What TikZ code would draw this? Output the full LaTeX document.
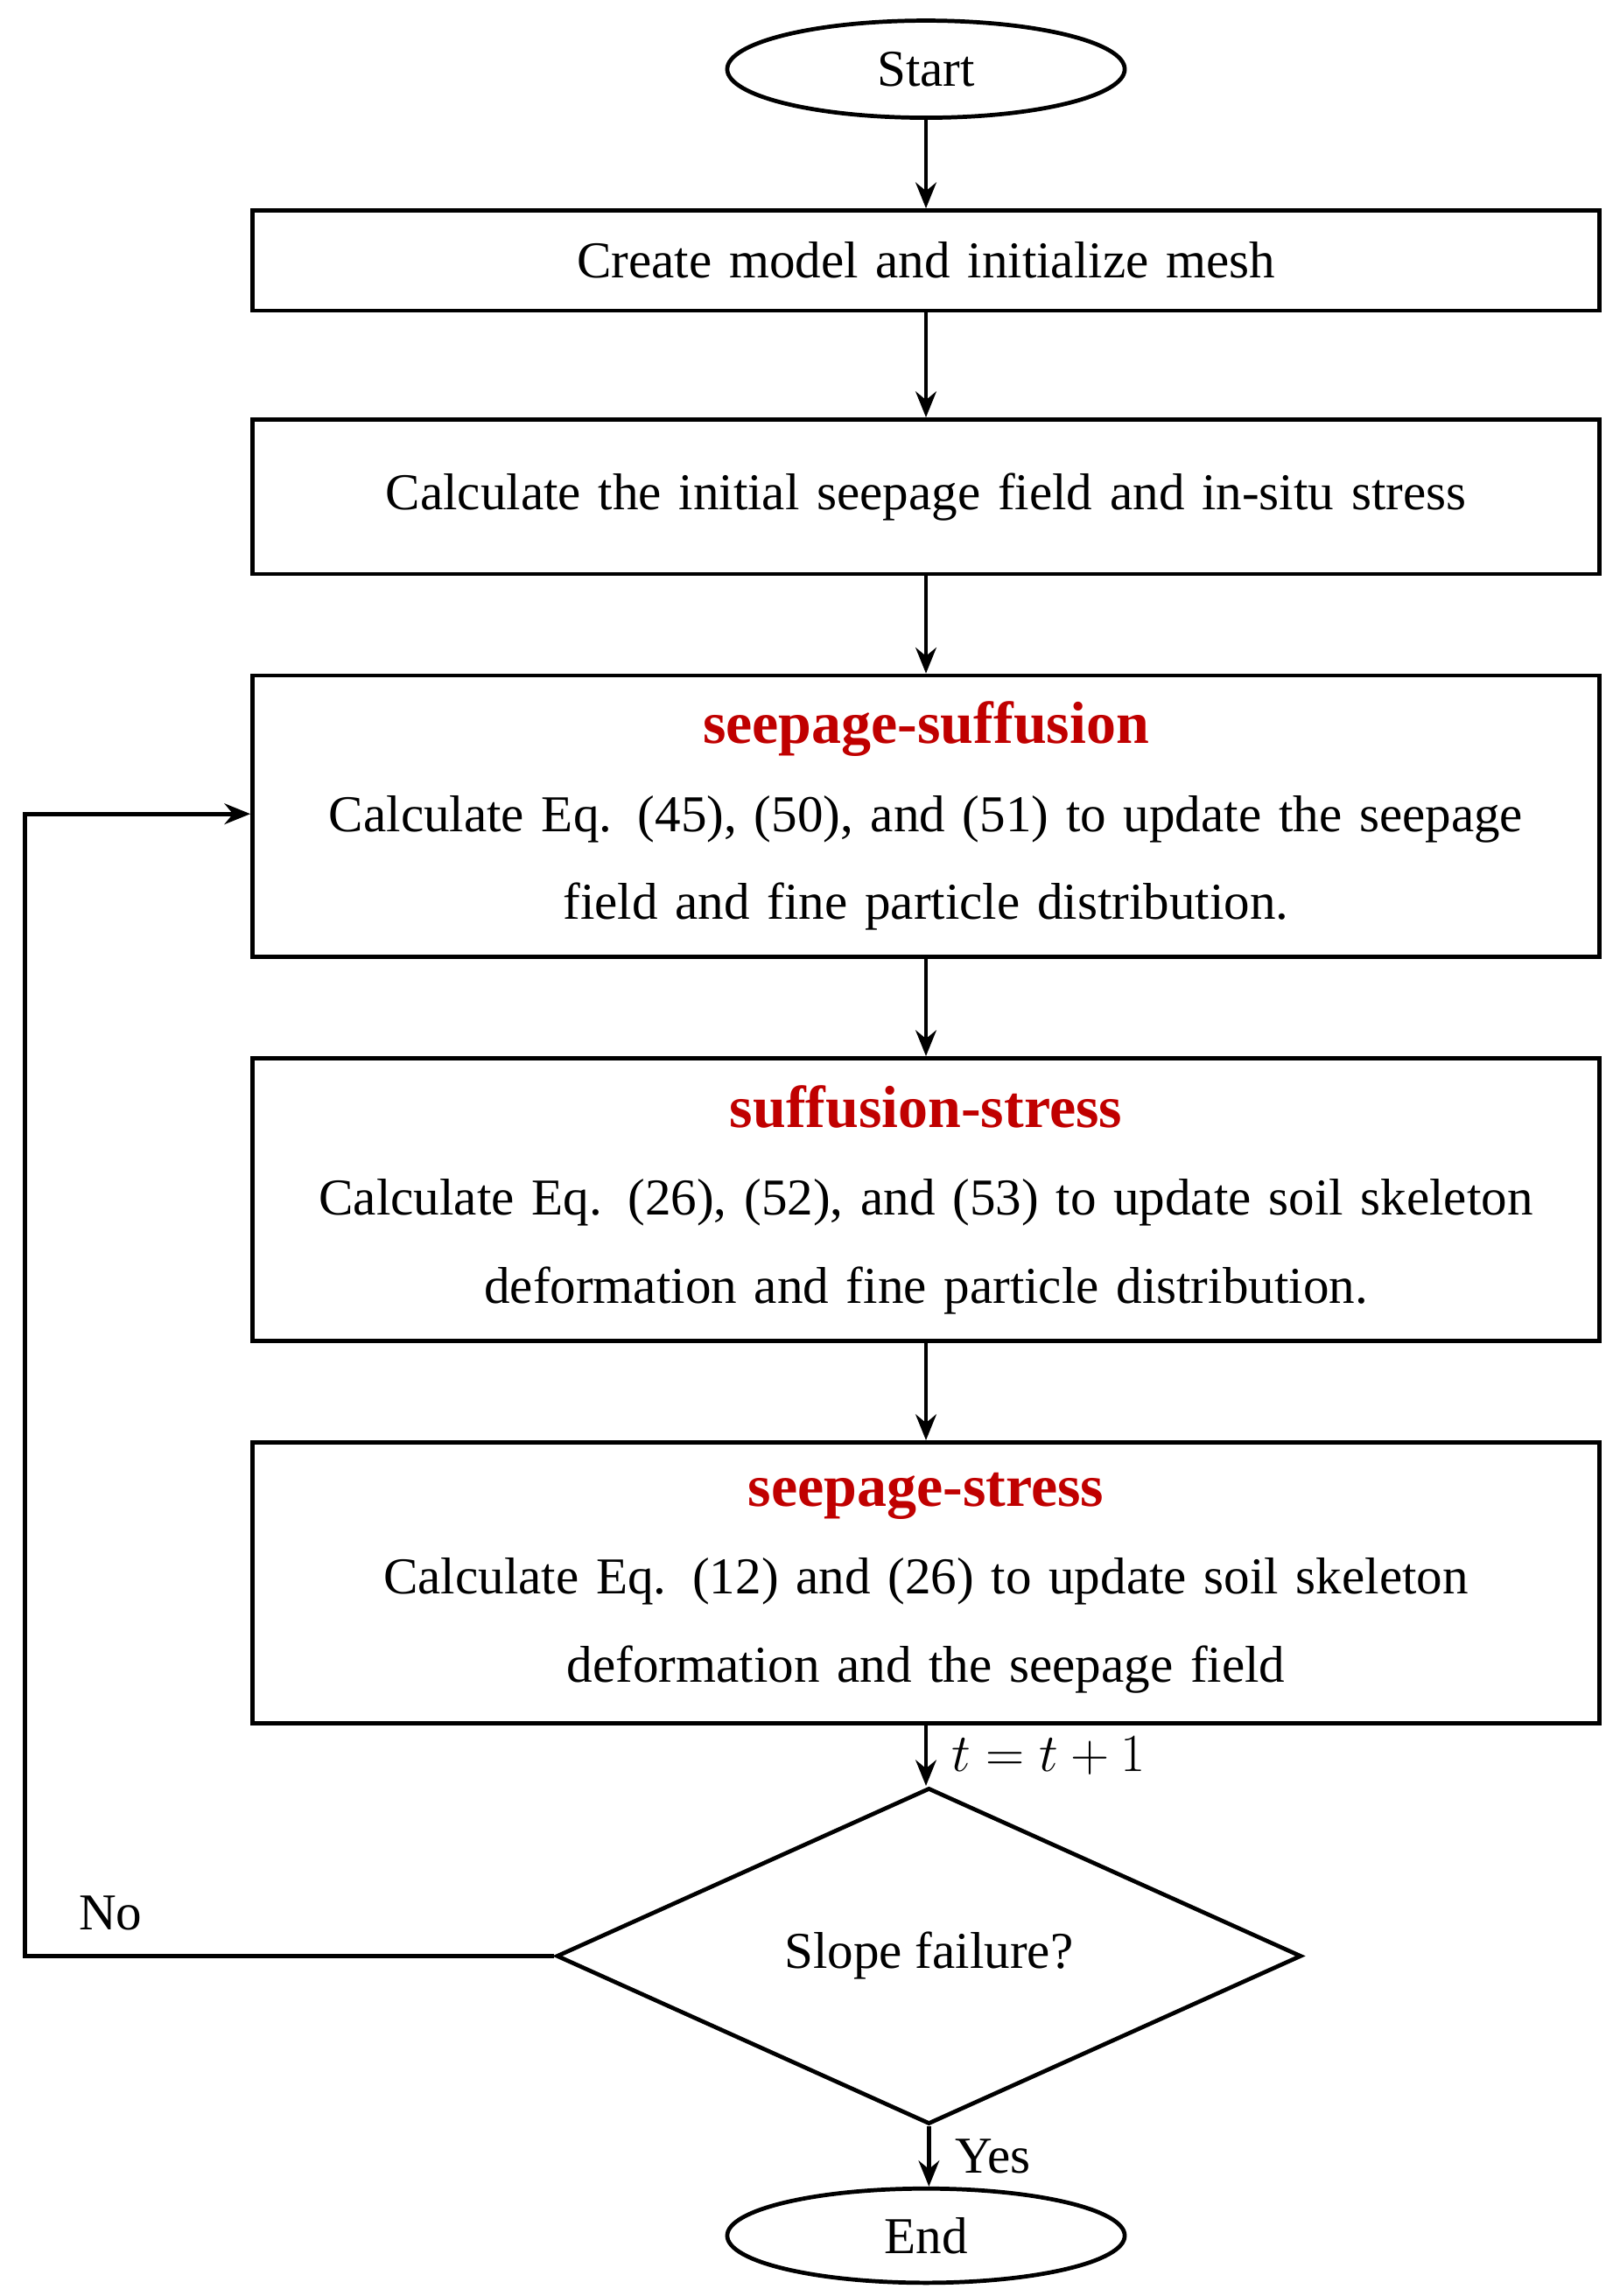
\documentclass[tikz,border=0pt]{standalone}
\usepackage{fontspec}
\setmainfont{Liberation Serif}
\usetikzlibrary{arrows.meta,positioning,shapes.geometric}
\definecolor{titlered}{RGB}{192,0,0}
\newcommand{\steptitle}[1]{{\fontsize{23}{34}\selectfont\bfseries\color{titlered}#1}}
\begin{document}
\begin{tikzpicture}[
block/.style={rectangle,draw,line width=1.6pt,minimum width=18.3cm,
text width=18cm,align=center,font=\fontsize{20}{34}\selectfont,anchor=center},
term/.style={ellipse,draw,line width=1.6pt,minimum width=5.4cm,minimum height=1.32cm,
font=\fontsize{20}{24}\selectfont},
arr/.style={-{Stealth[length=10pt,width=8pt]},line width=1.6pt},
lbl/.style={font=\fontsize{20}{24}\selectfont},
]
\useasboundingbox (0,0) rectangle (22,-31.2);
\node (start) [term] at (12.58,-0.94) {Start};
\node (mesh) [block,minimum height=1.36cm] at (12.58,-3.54) {Create model and initialize mesh};
\node (init) [block,minimum height=2.1cm] at (12.58,-6.75) {Calculate the initial seepage field and in-situ stress};
\node (ss) [block,minimum height=3.82cm] at (12.58,-11.09)
  {\steptitle{seepage-suffusion}\\Calculate Eq. (45), (50), and (51) to update the seepage\\field and fine particle distribution.};
\node (sst) [block,minimum height=3.84cm] at (12.58,-16.3)
  {\steptitle{suffusion-stress}\\Calculate Eq. (26), (52), and (53) to update soil skeleton\\deformation and fine particle distribution.};
\node (spst) [block,minimum height=3.82cm] at (12.58,-21.51)
  {\steptitle{seepage-stress}\\Calculate Eq. (12) and (26) to update soil skeleton\\deformation and the seepage field};
\node (fail) [diamond,draw,line width=1.6pt,inner sep=0pt,minimum width=10.12cm,
  minimum height=3.14cm,font=\fontsize{20}{24}\selectfont] at (12.62,-26.58) {Slope failure?};
\node (end) [term,minimum height=1.28cm] at (12.58,-30.38) {End};
\coordinate (loop) at (0.34,-11.06);
% main flow
\draw[arr] (start) -- (mesh);
\draw[arr] (mesh) -- (init);
\draw[arr] (init) -- (ss);
\draw[arr] (ss) -- (sst);
\draw[arr] (sst) -- (spst);
\draw[arr] (spst.south) -- (spst.south|-fail.north) node[lbl,midway,right=6pt] {$t=t+1$};
\draw[arr] (fail.south) -- (fail.south|-end.north) node[lbl,midway,right=6pt] {Yes};
% feedback
\draw[arr] (fail.west) -| (loop) -- (loop-|ss.west);
\node (no) [lbl] at (1.5,-26.0) {No};
\end{tikzpicture}
\end{document}
